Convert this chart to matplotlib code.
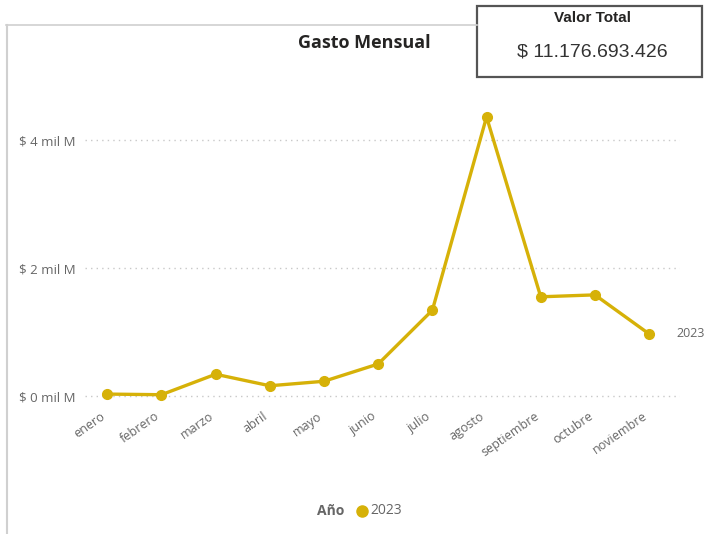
import matplotlib.pyplot as plt
import matplotlib.transforms as mtransforms
from matplotlib.patches import Rectangle
from matplotlib.lines import Line2D

plt.rcParams['font.family'] = ['Open Sans', 'DejaVu Sans']

# datos (miles de millones)
meses = ['enero', 'febrero', 'marzo', 'abril', 'mayo', 'junio', 'julio',
         'agosto', 'septiembre', 'octubre', 'noviembre']
gasto = [0.03, 0.02, 0.34, 0.16, 0.23, 0.50, 1.34, 4.36, 1.55, 1.58, 0.97]
y_ticks = [0, 2, 4]
y_labels = ['$ 0 mil M', '$ 2 mil M', '$ 4 mil M']
serie = '2023'
valor_total = '$ 11.176.693.426'

AMARILLO = '#D6B108'
GRIS = '#666666'

W, H = 707, 534
fig = plt.figure(figsize=(W / 100, H / 100), dpi=100)
fig.patch.set_facecolor('white')

# bordes del visual
fig.add_artist(Line2D([6 / W, 477 / W], [1 - 25 / H, 1 - 25 / H], color='#d0d0d0', lw=1.2))
fig.add_artist(Line2D([7 / W, 7 / W], [0, 1 - 25 / H], color='#d0d0d0', lw=1.5))

ax = fig.add_axes([85 / W, 1 - 400 / H, 595 / W, 300 / H])
x = list(range(len(meses)))
ax.plot(x, gasto, color=AMARILLO, lw=2.4, marker='o', markersize=7, clip_on=False)
ax.set_xlim(-0.41, 10.57)
ax.set_ylim(-0.0625, 4.625)

ax.set_yticks(y_ticks)
ax.set_yticklabels(y_labels, color=GRIS, fontsize=9.5)
ax.yaxis.grid(True, linestyle=(0, (1, 3)), color='#c8c8c8', lw=1)
ax.set_xticks(x)
ax.set_xticklabels(meses, rotation=35, ha='right', rotation_mode='anchor',
                   color=GRIS, fontsize=9)
ax.tick_params(length=0, pad=7)
desplazar = mtransforms.ScaledTranslation(-7 / 100, 0, fig.dpi_scale_trans)
for lbl in ax.get_xticklabels():
    lbl.set_transform(lbl.get_transform() + desplazar)
for s in ax.spines.values():
    s.set_visible(False)

ax.text(10.5, gasto[-1] + 0.01, serie, color=GRIS, fontsize=9, va='center', ha='left',
        clip_on=False)

# titulo
fig.text(364 / W, 1 - 43 / H, 'Gasto Mensual', fontsize=13, fontweight='bold',
         color='#252423', ha='center', va='center')

# tarjeta de valor total
fig.add_artist(Rectangle((477 / W, 1 - 77 / H), 225 / W, 71 / H, transform=fig.transFigure,
                         facecolor='white', edgecolor='#555555', lw=1.6))
fig.text(592 / W, 1 - 18 / H, 'Valor Total', fontsize=11, fontweight='bold',
         color='#252423', ha='center', va='center', family='Liberation Sans')
fig.text(592 / W, 1 - 52 / H, valor_total, fontsize=14, color='#333333',
         ha='center', va='center', family='Liberation Sans')

# leyenda
fig.text(331 / W, 1 - 511 / H, 'Año', fontsize=10, fontweight='bold', color=GRIS,
         ha='center', va='center')
fig.add_artist(Line2D([362 / W], [1 - 511 / H], marker='o', markersize=8, color=AMARILLO,
                      linestyle='none'))
fig.text(370 / W, 1 - 511 / H, serie, fontsize=10, color=GRIS, ha='left', va='center')

fig.savefig('out.png', dpi=100)
